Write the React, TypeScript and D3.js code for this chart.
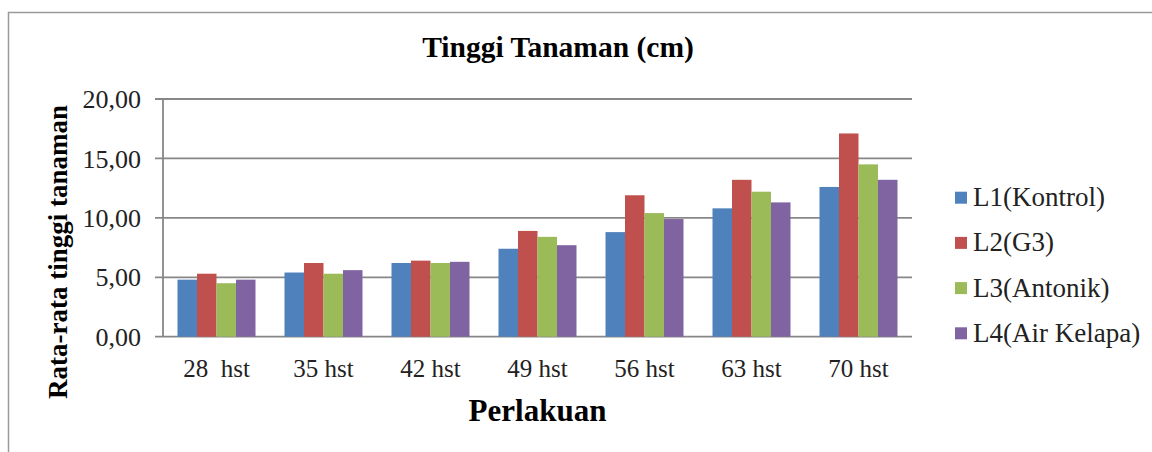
import React, { useEffect, useRef } from 'react';
import * as d3 from 'd3';

const categories = ['28  hst', '35 hst', '42 hst', '49 hst', '56 hst', '63 hst', '70 hst'];
const seriesNames = ['L1(Kontrol)', 'L2(G3)', 'L3(Antonik)', 'L4(Air Kelapa)'];
const L1 = [4.8, 5.4, 6.2, 7.4, 8.8, 10.8, 12.6];
const L2 = [5.3, 6.2, 6.4, 8.9, 11.9, 13.2, 17.1];
const L3 = [4.5, 5.3, 6.2, 8.4, 10.4, 12.2, 14.5];
const L4 = [4.8, 5.6, 6.3, 7.7, 9.9, 11.3, 13.2];
const yTicks = [0, 5, 10, 15, 20];
const colors = ['#4F81BD', '#C0504D', '#9BBB59', '#8064A2'];

const FONT = '"Liberation Serif", "Times New Roman", serif';

export default function App() {
  const ref = useRef<SVGSVGElement>(null);

  useEffect(() => {
    const width = 1152;
    const height = 452;
    const plot = { left: 163, right: 912, top: 99, bottom: 336.7 };
    const series = [L1, L2, L3, L4];

    const svg = d3.select(ref.current);
    svg.selectAll('*').remove();
    svg.attr('width', width).attr('height', height);

    svg
      .append('rect')
      .attr('x', 8.5)
      .attr('y', 12.5)
      .attr('width', 1300)
      .attr('height', 600)
      .attr('fill', 'white')
      .attr('stroke', '#9a9a9a')
      .attr('stroke-width', 1.5);

    const x0 = d3.scaleBand().domain(categories).range([plot.left, plot.right]).paddingInner(0.271).paddingOuter(0.1355);
    const x1 = d3
      .scaleBand()
      .domain(seriesNames)
      .range([0, x0.bandwidth()]);
    const y = d3.scaleLinear().domain([0, 20]).range([plot.bottom, plot.top]);

    // grid + ticks
    const grid = svg.append('g');
    grid
      .selectAll('line')
      .data(yTicks)
      .enter()
      .append('line')
      .attr('x1', plot.left - 8)
      .attr('x2', plot.right)
      .attr('y1', d => y(d))
      .attr('y2', d => y(d))
      .attr('stroke', '#878787')
      .attr('stroke-width', 1.8);

    svg
      .append('line')
      .attr('x1', plot.left)
      .attr('x2', plot.left)
      .attr('y1', y(20))
      .attr('y2', y(0))
      .attr('stroke', '#878787')
      .attr('stroke-width', 1.8);

    svg
      .append('g')
      .selectAll('text')
      .data(yTicks)
      .enter()
      .append('text')
      .attr('x', 141)
      .attr('y', d => y(d))
      .attr('dy', '0.35em')
      .attr('text-anchor', 'end')
      .style('font-family', FONT)
      .style('font-size', '26px')
      .attr('fill', '#222')
      .text(d => d3.format('.2f')(d).replace('.', ','));

    // bars
    const groups = svg
      .append('g')
      .selectAll('g')
      .data(categories)
      .enter()
      .append('g')
      .attr('transform', d => `translate(${x0(d)},0)`);

    groups
      .selectAll('rect')
      .data((d, i) => series.map((s, k) => ({ name: seriesNames[k], value: s[i], k })))
      .enter()
      .append('rect')
      .attr('x', d => x1(d.name) as number)
      .attr('y', d => y(d.value))
      .attr('width', x1.bandwidth())
      .attr('height', d => y(0) - y(d.value))
      .attr('fill', d => colors[d.k]);

    // category labels
    svg
      .append('g')
      .selectAll('text')
      .data(categories)
      .enter()
      .append('text')
      .attr('x', d => (x0(d) as number) + x0.bandwidth() / 2)
      .attr('y', 377)
      .attr('text-anchor', 'middle')
      .attr('xml:space', 'preserve')
      .style('white-space', 'pre')
      .style('font-family', FONT)
      .style('font-size', '25px')
      .attr('fill', '#222')
      .text(d => d);

    // titles
    svg
      .append('text')
      .attr('x', 558)
      .attr('y', 57)
      .attr('text-anchor', 'middle')
      .style('font-family', FONT)
      .style('font-size', '29.5px')
      .style('font-weight', 'bold')
      .text('Tinggi Tanaman (cm)');

    svg
      .append('text')
      .attr('x', (plot.left + plot.right) / 2)
      .attr('y', 421)
      .attr('text-anchor', 'middle')
      .style('font-family', FONT)
      .style('font-size', '31px')
      .style('font-weight', 'bold')
      .text('Perlakuan');

    svg
      .append('text')
      .attr('transform', 'translate(67,252) rotate(-90)')
      .attr('text-anchor', 'middle')
      .style('font-family', FONT)
      .style('font-size', '27px')
      .style('font-weight', 'bold')
      .text('Rata-rata tinggi tanaman');

    // legend
    const legend = svg
      .append('g')
      .selectAll('g')
      .data(seriesNames)
      .enter()
      .append('g')
      .attr('transform', (d, i) => `translate(955,${197.7 + i * 45.2})`);

    legend
      .append('rect')
      .attr('x', 0)
      .attr('y', -6)
      .attr('width', 12)
      .attr('height', 12)
      .attr('fill', (d, i) => colors[i]);

    legend
      .append('text')
      .attr('x', 18)
      .attr('y', 8.5)
      .style('font-family', FONT)
      .style('font-size', '27px')
      .attr('fill', '#222')
      .text(d => d);
  }, []);

  return <svg ref={ref} style={{ position: 'absolute', left: 0, top: 0, display: 'block' }} />;
}
